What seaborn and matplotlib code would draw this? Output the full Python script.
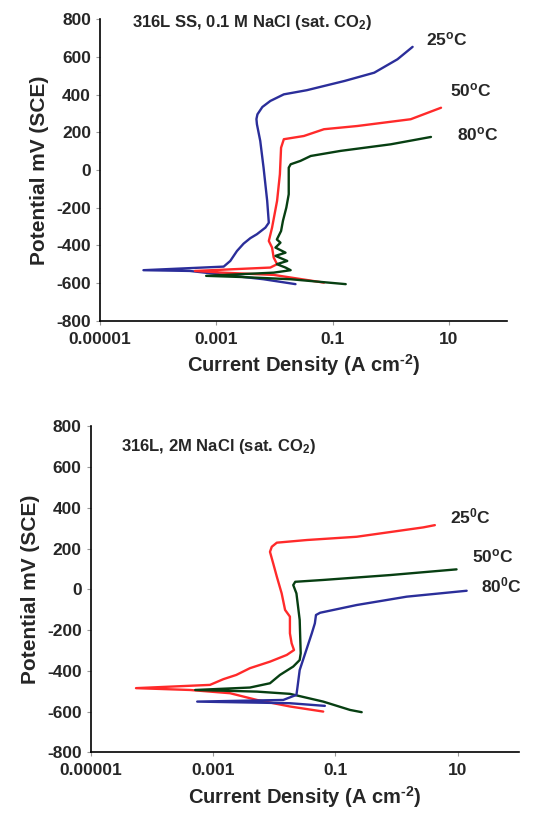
import pandas as pd
import numpy as np
import matplotlib
matplotlib.use("Agg")
import matplotlib.pyplot as plt
import seaborn as sns

sns.set_style("ticks")
plt.rcParams["font.family"] = ["Liberation Sans", "DejaVu Sans"]
plt.rcParams["font.weight"] = "bold"
plt.rcParams["mathtext.fontset"] = "custom"
plt.rcParams["mathtext.rm"] = "Liberation Sans:bold"
plt.rcParams["mathtext.it"] = "Liberation Sans:bold"
plt.rcParams["mathtext.bf"] = "Liberation Sans:bold"
plt.rcParams["axes.unicode_minus"] = False

# --- data: 316L SS, 0.1 M NaCl ---
top_25_i = [2.3e-2, 6.5e-3, 3.5e-4, 5.6e-5, 1.34e-3, 1.74e-3, 2.27e-3, 2.95e-3, 3.85e-3, 5.0e-3, 7.0e-3,
            8.0e-3, 7.5e-3, 6.5e-3, 5.7e-3, 5.0e-3, 4.9e-3, 5.1e-3, 6.2e-3, 8.5e-3, 1.45e-2, 3.6e-2,
            0.16, 0.52, 1.3, 2.37]
top_25_E = [-606, -580, -536, -532, -513, -483, -430, -391, -362, -341, -306,
            -280, -164, 12, 154, 242, 270, 295, 334, 366, 401, 423,
            472, 516, 587, 653]
top_50_i = [0.071, 9.7e-3, 1.3e-3, 4.3e-4, 8.5e-3, 1.11e-2, 9.7e-3, 9.1e-3, 8.0e-3, 9.1e-3, 1.11e-2,
            1.24e-2, 1.3e-2, 1.45e-2, 3.2e-2, 7.1e-2, 0.265, 2.2, 7.3]
top_50_E = [-598, -557, -545, -536, -518, -500, -465, -412, -377, -306, -164,
            -23, 118, 163, 180, 216, 233, 269, 330]
top_80_i = [0.168, 1.9e-2, 2.6e-3, 6.7e-4, 9.7e-3, 1.9e-2, 1.55e-2, 1.1e-2, 1.66e-2, 1.04e-2, 1.55e-2,
            1.04e-2, 1.27e-2, 1.1e-2, 1.3e-2, 1.4e-2, 1.6e-2, 1.76e-2, 1.76e-2, 1.9e-2, 2.8e-2, 4.2e-2,
            0.137, 1.0, 4.9]
top_80_E = [-606, -580, -568, -562, -545, -532, -518, -500, -483, -456, -439,
            -412, -386, -369, -324, -270, -200, -129, 12, 30, 48, 74,
            101, 136, 175]

# --- data: 316L, 2M NaCl ---
bot_25_i = [0.063, 1.8e-2, 5.2e-3, 1.9e-3, 4.2e-4, 5.5e-5, 8.9e-4, 1.47e-3, 2.4e-3, 4.0e-3, 8.5e-3,
            1.6e-2, 2.1e-2, 1.92e-2, 1.8e-2, 1.8e-2, 1.5e-2, 1.32e-2, 1.1e-2, 9.6e-3, 8.5e-3, 9.1e-3,
            1.1e-2, 3.4e-2, 0.222, 2.72, 4.2]
bot_25_E = [-600, -575, -543, -510, -494, -485, -469, -441, -420, -387, -355,
            -322, -298, -265, -216, -134, -101, -20, 62, 127, 184, 209,
            229, 242, 258, 304, 315]
bot_50_i = [0.268, 0.173, 0.063, 1.8e-2, 5.2e-3, 5.1e-4, 4.0e-3, 8.5e-3, 1.24e-2, 2.04e-2, 2.6e-2,
            2.7e-2, 2.6e-2, 2.3e-2, 2.04e-2, 2.2e-2, 6.3e-2, 0.78, 9.5]
bot_50_E = [-603, -592, -551, -513, -502, -494, -482, -461, -420, -379, -347,
            -314, -150, -20, 21, 37, 46, 70, 98]
bot_80_i = [6.7e-2, 1.8e-2, 5.5e-4, 1.4e-2, 2.3e-2, 2.4e-2, 2.6e-2, 3.2e-2, 4.1e-2, 4.6e-2, 4.8e-2,
            5.6e-2, 0.222, 1.46, 13.9]
bot_80_E = [-572, -559, -551, -543, -518, -477, -396, -314, -216, -167, -126,
            -115, -77, -36, -7]

x_ticks = [1e-5, 1e-3, 1e-1, 10]
x_ticklabels = ["0.00001", "0.001", "0.1", "10"]
y_ticks = [-800, -600, -400, -200, 0, 200, 400, 600, 800]

blue = "#2b2e9a"
red = "#ff2a2a"
green = "#073f12"


def make_df(series):
    frames = []
    for name, i, E in series:
        frames.append(pd.DataFrame({"i": i, "E": E, "T": name}))
    return pd.concat(frames, ignore_index=True)


def panel(ax, df, palette, title, title_pos, labels):
    sns.lineplot(data=df, x="i", y="E", hue="T", palette=palette, sort=False,
                 estimator=None, legend=False, lw=1.7, ax=ax)
    ax.set_xscale("log")
    ax.set_xlim(1e-5, 100)
    ax.set_ylim(-800, 800)
    ax.set_xticks(x_ticks)
    ax.set_xticklabels(x_ticklabels)
    ax.minorticks_off()
    ax.set_yticks(y_ticks)
    ax.set_yticklabels([str(v) for v in y_ticks])
    ax.tick_params(axis="both", labelsize=12.5, color="#999999", length=3, width=0.8)
    ax.tick_params(axis="x", pad=5)
    for lab in ax.get_xticklabels() + ax.get_yticklabels():
        lab.set_fontweight("bold")
    sns.despine(ax=ax)
    for s in ["left", "bottom"]:
        ax.spines[s].set_linewidth(1.2)
        ax.spines[s].set_color("black")
    ax.set_xlabel("Current Density (A cm$^{\\text{-2}}$)", fontsize=14.5, fontweight="bold", labelpad=4)
    ax.set_ylabel("Potential mV (SCE)", fontsize=15, fontweight="bold", labelpad=5)
    ax.text(title_pos[0], title_pos[1], title, fontsize=12, fontweight="bold", va="center", ha="left")
    for txt, x, y in labels:
        ax.text(x, y, txt, fontsize=12.5, fontweight="bold", va="center", ha="left")


fig = plt.figure(figsize=(5.43, 8.15), dpi=100)
ax1 = fig.add_axes([0.184, 0.6065, 0.750, 0.370])
ax2 = fig.add_axes([0.167, 0.0769, 0.789, 0.400])

df_top = make_df([("25", top_25_i, top_25_E), ("50", top_50_i, top_50_E), ("80", top_80_i, top_80_E)])
panel(ax1, df_top, {"25": blue, "50": red, "80": green},
      "316L SS, 0.1 M NaCl (sat. CO$_2$)", (3.5e-5, 780),
      [("25$^{\\rm o}$C", 4.0, 695), ("50$^{\\rm o}$C", 10.5, 423), ("80$^{\\rm o}$C", 14, 189)])

df_bot = make_df([("25", bot_25_i, bot_25_E), ("50", bot_50_i, bot_50_E), ("80", bot_80_i, bot_80_E)])
panel(ax2, df_bot, {"25": red, "50": green, "80": blue},
      "316L, 2M NaCl (sat. CO$_2$)", (3.1e-5, 699),
      [("25$^0$C", 7.4, 356), ("50$^{\\rm o}$C", 16.8, 163), ("80$^0$C", 23.5, 18)])

fig.savefig("out.png", dpi=100)
